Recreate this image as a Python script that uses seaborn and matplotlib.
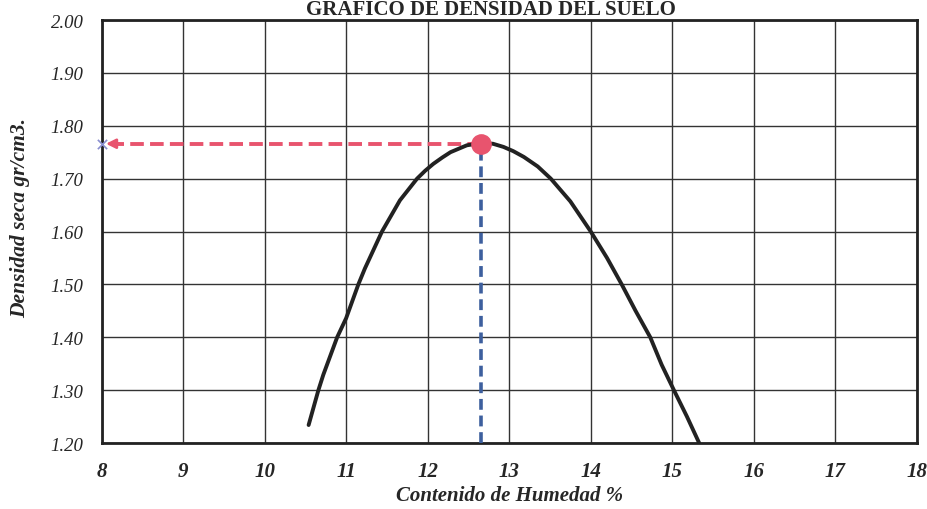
import matplotlib
matplotlib.use("Agg")
import matplotlib.pyplot as plt
import seaborn as sns
import pandas as pd

# Curve (moisture %, dry density)
humedad = [10.54, 10.66, 10.72, 10.89, 11.00, 11.15, 11.23, 11.44, 11.66, 11.87,
           11.97, 12.07, 12.18, 12.28, 12.48, 12.64, 12.80, 12.93, 13.05, 13.18,
           13.35, 13.51, 13.75, 14.00, 14.20, 14.38, 14.55, 14.73, 14.87, 15.02,
           15.18, 15.33]
densidad = [1.234, 1.300, 1.329, 1.400, 1.436, 1.500, 1.530, 1.600, 1.659, 1.700,
            1.715, 1.728, 1.740, 1.750, 1.763, 1.767, 1.766, 1.760, 1.752, 1.741,
            1.723, 1.700, 1.657, 1.600, 1.550, 1.500, 1.450, 1.400, 1.348, 1.300,
            1.250, 1.200]

opt_humedad = 12.65
max_densidad = 1.766

x_ticks = [8, 9, 10, 11, 12, 13, 14, 15, 16, 17, 18]
y_ticks = [1.20, 1.30, 1.40, 1.50, 1.60, 1.70, 1.80, 1.90, 2.00]

titulo = "GRÁFICO DE DENSIDAD DEL SUELO"
x_label = "Contenido de Humedad %"
y_label = "Densidad seca gr/cm3."

sns.set_style("white")
plt.rcParams['font.family'] = ['Liberation Serif', 'DejaVu Serif']

fig = plt.figure(figsize=(9.28, 5.10), dpi=100)
ax = fig.add_axes([0.1094, 0.1294, 0.8786, 0.8294])

df = pd.DataFrame({"h": humedad, "d": densidad})
sns.lineplot(data=df, x="h", y="d", ax=ax, color="#222222", lw=2.8, sort=False, zorder=4)
for l in ax.lines:
    l.set_solid_joinstyle("round")
    l.set_solid_capstyle("round")

# vertical blue dashed line
ax.plot([opt_humedad, opt_humedad], [y_ticks[0], max_densidad], color="#3d5f9e",
        lw=2.6, ls=(0, (3, 1.6)), zorder=3)
# horizontal red dashed arrow
ax.plot([opt_humedad, x_ticks[0] + 0.12], [max_densidad, max_densidad], color="#e8546e",
        lw=2.8, ls=(0, (3.5, 1.6)), zorder=3)
ax.annotate("", xy=(x_ticks[0] + 0.02, max_densidad), xytext=(x_ticks[0] + 0.25, max_densidad),
            arrowprops=dict(arrowstyle="-|>", color="#e8546e", lw=2, mutation_scale=14), zorder=5)
ax.scatter([x_ticks[0]], [max_densidad], marker="x", s=45, color="#8a8fd0", lw=1.2, zorder=6, clip_on=False)
sns.scatterplot(x=[opt_humedad], y=[max_densidad], ax=ax, s=190, color="#e8546e",
                edgecolor="#e8546e", zorder=6)

ax.set_xlim(x_ticks[0], x_ticks[-1])
ax.set_ylim(y_ticks[0], y_ticks[-1])
ax.set_xticks(x_ticks)
ax.set_yticks(y_ticks)
ax.set_xticklabels([str(v) for v in x_ticks], fontsize=15, fontstyle="italic", fontweight="bold")
ax.set_yticklabels([f"{v:.2f}" for v in y_ticks], fontsize=13.5, fontstyle="italic")
ax.grid(True, color="#333333", lw=1.0)
ax.set_axisbelow(True)
for s in ax.spines.values():
    s.set_color("#222222")
    s.set_linewidth(2.0)
ax.tick_params(axis="both", direction="out", length=7, width=1, color="#333333", pad=6)

ax.set_xlabel(x_label, fontsize=15, fontstyle="italic", fontweight="bold")
ax.xaxis.set_label_coords(0.5, -0.10)
ax.set_ylabel(y_label, fontsize=15.5, fontstyle="italic", fontweight="bold")
ax.yaxis.set_label_coords(-0.088, 0.535)

fig.text(0.529, 1.0, titulo, ha="center", va="top", fontsize=15, fontweight="bold")

fig.savefig("out.png", dpi=100)
